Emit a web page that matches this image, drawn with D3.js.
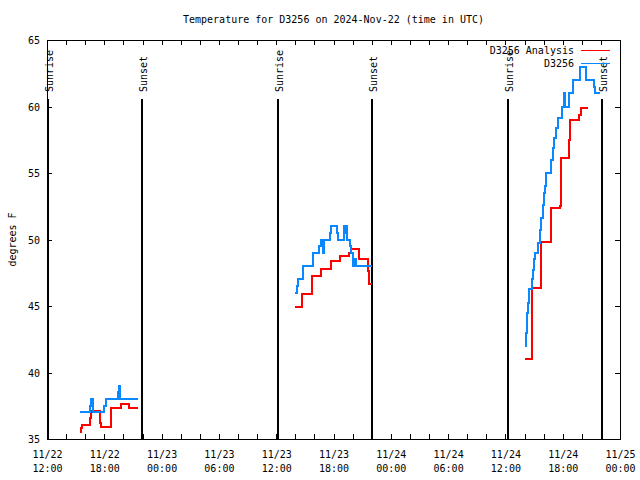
<!DOCTYPE html>
<html><head><meta charset="utf-8">
<script src="https://cdn.jsdelivr.net/npm/d3@7"></script>
<style>
body{margin:0;background:#fff;}
text{font-family:"DejaVu Sans Mono","Liberation Mono",monospace;font-size:10px;fill:#000;}
</style></head>
<body><svg id="c" width="640" height="480"></svg>
<script>
// ---- data ----
const titleText = "Temperature for D3256 on 2024-Nov-22 (time in UTC)";
const yLabel = "degrees F";
const seriesNames = ["D3256 Analysis", "D3256"];
const yTicks = [35, 40, 45, 50, 55, 60, 65];
const sunrises = ["2024-11-22T12:06", "2024-11-23T12:11", "2024-11-24T12:16"];
const sunsets  = ["2024-11-22T21:58", "2024-11-23T22:05", "2024-11-24T22:07"];

const analysisTimes = [
 "2024-11-22T15:27","2024-11-22T15:33","2024-11-22T15:40","2024-11-22T16:30","2024-11-22T16:36",
 "2024-11-22T17:33","2024-11-22T17:39","2024-11-22T18:40","2024-11-22T19:45","2024-11-22T20:37","2024-11-22T21:34",
 null,
 "2024-11-23T13:58","2024-11-23T14:40","2024-11-23T14:44","2024-11-23T15:43","2024-11-23T16:41",
 "2024-11-23T17:42","2024-11-23T18:41","2024-11-23T19:39","2024-11-23T19:48","2024-11-23T20:42",
 "2024-11-23T21:39","2024-11-23T21:45","2024-11-23T22:04",
 null,
 "2024-11-24T14:03","2024-11-24T14:45","2024-11-24T14:49","2024-11-24T15:42","2024-11-24T15:46",
 "2024-11-24T16:45","2024-11-24T16:48","2024-11-24T17:43","2024-11-24T17:47","2024-11-24T18:41",
 "2024-11-24T18:46","2024-11-24T19:42","2024-11-24T19:53","2024-11-24T20:41"
];
const analysisValues = [
 35.5,35.8,36.05,36.55,37.1,
 36.2,35.9,37.35,37.6,37.3,37.3,
 null,
 44.9,45.45,45.9,47.25,47.75,
 48.4,48.76,48.96,49.26,48.5,
 47.6,46.65,46.65,
 null,
 41.0,43.65,46.33,48.1,49.84,
 51.17,52.35,52.5,56.1,57.5,
 59.0,59.36,59.86,59.86
];

const obsTimes = [
 "2024-11-22T15:27","2024-11-22T16:30","2024-11-22T16:36","2024-11-22T16:43","2024-11-22T16:47",
 "2024-11-22T16:51","2024-11-22T18:00","2024-11-22T18:10","2024-11-22T19:24","2024-11-22T19:30",
 "2024-11-22T19:40","2024-11-22T21:34",
 null,
 "2024-11-23T13:58","2024-11-23T14:09","2024-11-23T14:15","2024-11-23T14:50","2024-11-23T15:49",
 "2024-11-23T15:53","2024-11-23T16:31","2024-11-23T16:40","2024-11-23T16:56","2024-11-23T17:02",
 "2024-11-23T17:38","2024-11-23T17:44","2024-11-23T18:24","2024-11-23T18:30","2024-11-23T19:07",
 "2024-11-23T19:14","2024-11-23T19:20","2024-11-23T19:25","2024-11-23T19:44","2024-11-23T19:48",
 "2024-11-23T20:01","2024-11-23T20:04","2024-11-23T20:08","2024-11-23T20:12","2024-11-23T20:16",
 "2024-11-23T20:20","2024-11-23T22:04",
 null,
 "2024-11-24T14:03","2024-11-24T14:09","2024-11-24T14:18","2024-11-24T14:24","2024-11-24T14:30",
 "2024-11-24T14:45","2024-11-24T14:52","2024-11-24T15:00","2024-11-24T15:06","2024-11-24T15:27",
 "2024-11-24T15:37","2024-11-24T15:42","2024-11-24T15:54","2024-11-24T16:03","2024-11-24T16:09",
 "2024-11-24T16:15","2024-11-24T16:45","2024-11-24T16:57","2024-11-24T17:05","2024-11-24T17:18",
 "2024-11-24T17:30","2024-11-24T17:57","2024-11-24T18:06","2024-11-24T18:12","2024-11-24T18:37",
 "2024-11-24T19:02","2024-11-24T19:46","2024-11-24T20:24","2024-11-24T21:16","2024-11-24T21:24",
 "2024-11-24T21:52"
];
const obsValues = [
 37,37.5,38,37.5,38,
 37,37.5,38,38.5,39,
 38,38,
 null,
 46,46.5,47,48,48.5,
 49,49.5,50,49,50,
 50.5,51,50.5,50,51,
 50.5,51,50,49.5,49,
 48.5,48,48.5,48,48.5,
 48,48,
 null,
 42,43,44.5,45.2,46.3,
 47,47.7,48.5,49,49.7,
 50.7,51.6,52.6,53.5,54,
 55,56,56.9,57.6,58.4,
 59.1,60,61,60,61,
 62,63,62,61.5,61,
 61
];

// ---- chart ----
const parse = d3.utcParse("%Y-%m-%dT%H:%M");
const L = 47, R = 620, T = 40, B = 439;
const x = d3.scaleUtc()
  .domain([parse("2024-11-22T12:00"), parse("2024-11-25T00:00")])
  .range([L, R]);
const y = d3.scaleLinear().domain([35, 65]).range([B, T]);

const svg = d3.select("#c");
const colors = ["#ff0000", "#0a88ff"];

// frame
svg.append("rect").attr("x", L).attr("y", T).attr("width", R - L).attr("height", B - T)
  .attr("fill", "none").attr("stroke", "#000").attr("stroke-width", 1)
  .attr("shape-rendering", "crispEdges");

function styleTicks(g) {
  g.select(".domain").remove();
  g.selectAll("line").attr("stroke", "#000").attr("shape-rendering", "crispEdges");
}
const tick2h = d3.utcHour.every(2);
svg.append("g").attr("transform", `translate(0,${B})`)
  .call(d3.axisBottom(x).ticks(tick2h).tickSize(-5).tickFormat(""))
  .call(styleTicks);
svg.append("g").attr("transform", `translate(0,${T})`)
  .call(d3.axisTop(x).ticks(tick2h).tickSize(-5).tickFormat(""))
  .call(styleTicks);
svg.append("g").attr("transform", `translate(${L},0)`)
  .call(d3.axisLeft(y).tickValues(yTicks).tickSize(-5).tickFormat(""))
  .call(styleTicks);
svg.append("g").attr("transform", `translate(${R},0)`)
  .call(d3.axisRight(y).tickValues(yTicks).tickSize(-5).tickFormat(""))
  .call(styleTicks);

// x labels
const fmtD = d3.utcFormat("%m/%d"), fmtT = d3.utcFormat("%H:%M");
const xl = svg.append("g").attr("transform", `translate(0,${B})`)
  .call(d3.axisBottom(x).ticks(d3.utcHour.every(6)).tickSize(0).tickFormat(""));
xl.select(".domain").remove();
xl.selectAll(".tick text").each(function(d) {
  const t = d3.select(this).attr("y", null).attr("dy", null)
    .attr("font-family", null).attr("font-size", null);
  t.append("tspan").attr("x", 0).attr("y", 19).text(fmtD(d));
  t.append("tspan").attr("x", 0).attr("y", 33).text(fmtT(d));
});

// y labels
const yl = svg.append("g").attr("transform", `translate(${L},0)`)
  .call(d3.axisLeft(y).tickValues(yTicks).tickSize(0).tickPadding(7).tickFormat(d3.format("d")));
yl.select(".domain").remove();
yl.selectAll(".tick text").attr("font-family", null).attr("font-size", null).attr("dy", "0.35em");

// sunrise / sunset lines
const sun = sunrises.map(s => ({t: parse(s), n: "Sunrise"}))
  .concat(sunsets.map(s => ({t: parse(s), n: "Sunset"})));
svg.append("g").selectAll("line").data(sun).join("line")
  .attr("x1", d => Math.round(x(d.t))).attr("x2", d => Math.round(x(d.t)))
  .attr("y1", 99).attr("y2", B)
  .attr("stroke", "#000").attr("stroke-width", 2).attr("shape-rendering", "crispEdges");
svg.append("g").selectAll("text").data(sun).join("text")
  .attr("transform", d => `translate(${Math.round(x(d.t)) + 1},92) rotate(-90)`)
  .attr("dy", "0.35em").attr("text-anchor", "start").text(d => d.n);

// series
function pts(times, vals) {
  return times.map((t, i) => ({t: t ? parse(t) : null, v: vals[i]}));
}
const line = d3.line().defined(d => d.v != null)
  .x(d => x(d.t)).y(d => y(d.v)).curve(d3.curveStepAfter);
const series = [pts(analysisTimes, analysisValues), pts(obsTimes, obsValues)];
series.forEach((s, i) => {
  svg.append("path").datum(s).attr("d", line)
    .attr("fill", "none").attr("stroke", colors[i]).attr("stroke-width", 2)
    .attr("shape-rendering", "crispEdges");
});

// legend
seriesNames.forEach((n, i) => {
  const ly = 50 + i * 13;
  svg.append("text").attr("x", 574).attr("y", ly).attr("dy", "0.35em")
    .attr("text-anchor", "end").text(n);
  svg.append("line").attr("x1", 581).attr("x2", 610).attr("y1", ly).attr("y2", ly)
    .attr("stroke", colors[i]).attr("stroke-width", 1).attr("shape-rendering", "crispEdges");
});

// title and y label
svg.append("text").attr("x", (L + R) / 2).attr("y", 23).attr("text-anchor", "middle").text(titleText);
svg.append("text").attr("transform", `translate(12,${(T + B) / 2}) rotate(-90)`)
  .attr("dy", "0.35em").attr("text-anchor", "middle").text(yLabel);
</script></body></html>
